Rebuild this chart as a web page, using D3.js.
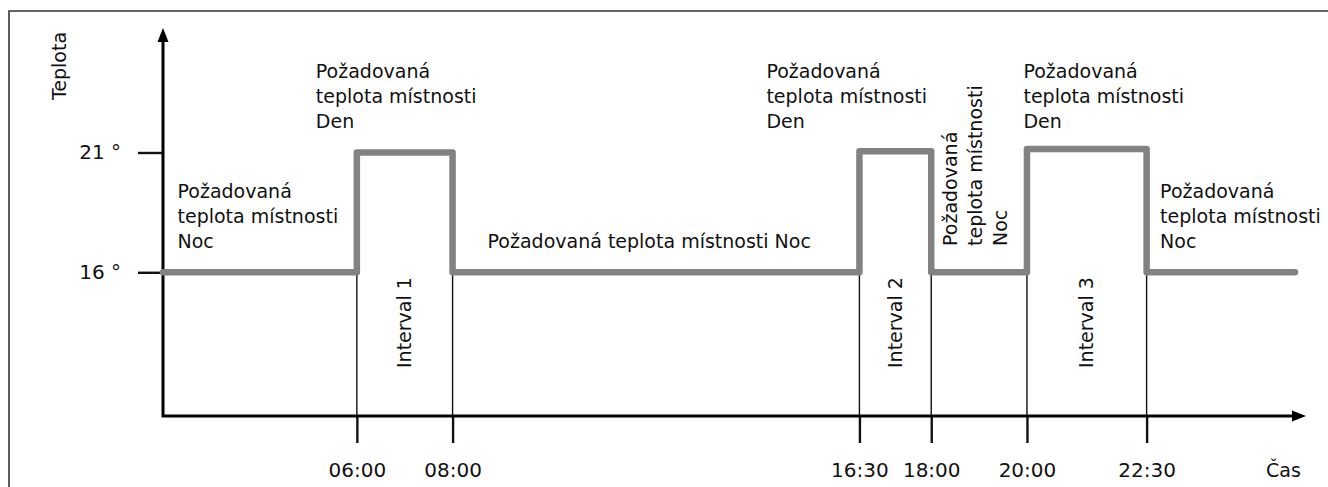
<!DOCTYPE html>
<html><head><meta charset="utf-8">
<script src="https://cdn.jsdelivr.net/npm/d3@7"></script>
<style>
body{margin:0;background:#fff}
svg text{font-family:"DejaVu Sans",sans-serif;font-size:19px;fill:#111}
</style>
</head><body>
<svg id="c" width="1328" height="487"></svg>
<script>
// ---- data ----
const segStartHours = [1.95, 6, 8, 16.5, 18, 20, 22.5];
const segTemps      = [16, 21, 16, 21.05, 16, 21.15, 16];
const lineEndHour   = 25.6;
const tickHours     = [6, 8, 16.5, 18, 20, 22.5];
const tickLabels    = ["06:00", "08:00", "16:30", "18:00", "20:00", "22:30"];
const tempTicks     = [16, 21];
const tempLabels    = ["16 °", "21 °"];
const intervalNames = ["Interval 1", "Interval 2", "Interval 3"];
const intervalStart = [6, 16.5, 20];
const intervalEnd   = [8, 18, 22.5];
const denLines      = ["Požadovaná", "teplota místnosti", "Den"];
const nocLines      = ["Požadovaná", "teplota místnosti", "Noc"];
const nocInline     = "Požadovaná teplota místnosti Noc";
const yTitle = "Teplota", xTitle = "Čas";

// ---- scales ----
const svg = d3.select("#c");
const x = d3.scaleLinear().domain([1.95, 25.83]).range([163, 1306]);
const y = d3.scaleLinear().domain([10, 21]).range([416, 152.5]);
const x0 = x.range()[0], y0 = y(10);

// frame
svg.append("path").attr("d", "M9,487V11H1328").attr("fill", "none")
  .attr("stroke", "#333").attr("stroke-width", 1.6);

// thin vertical guide lines
svg.append("g").selectAll("line").data(tickHours).join("line")
  .attr("x1", d => x(d)).attr("x2", d => x(d))
  .attr("y1", y(16)).attr("y2", y0)
  .attr("stroke", "#111").attr("stroke-width", 1.4);

// x axis ticks + labels
const gx = svg.append("g").attr("transform", `translate(0,${y0})`)
  .call(d3.axisBottom(x).tickValues(tickHours).tickFormat((d, i) => tickLabels[i])
    .tickSize(27).tickSizeOuter(0).tickPadding(20));
gx.select(".domain").remove();
gx.selectAll(".tick line").attr("stroke", "#111").attr("stroke-width", 2.4);
gx.selectAll(".tick text").style("font-size", "20px").attr("fill", "#111");
gx.attr("font-size", null).attr("font-family", null);

// y axis ticks + labels
const gy = svg.append("g").attr("transform", `translate(${x0},0)`)
  .call(d3.axisLeft(y).tickValues(tempTicks).tickFormat((d, i) => tempLabels[i])
    .tickSize(25).tickSizeOuter(0).tickPadding(17));
gy.select(".domain").remove();
gy.selectAll(".tick line").attr("stroke", "#111").attr("stroke-width", 2.4);
gy.selectAll(".tick text").style("font-size", "20px").attr("fill", "#111");
gy.attr("font-size", null).attr("font-family", null);

// axes lines with arrows
const xEnd = x.range()[1];
const yTop = 28;
svg.append("path").attr("d", `M${x0},${yTop + 12}V${y0}H${xEnd - 12}`)
  .attr("fill", "none").attr("stroke", "#000").attr("stroke-width", 3)
  .attr("stroke-linejoin", "miter");
svg.append("path").attr("d", `M${xEnd},${y0}L${xEnd - 14},${y0 - 5.5}L${xEnd - 14},${y0 + 5.5}Z`).attr("fill", "#000");
svg.append("path").attr("d", `M${x0},${yTop}L${x0 - 5.5},${yTop + 14}L${x0 + 5.5},${yTop + 14}Z`).attr("fill", "#000");

// step line
const pts = segStartHours.map((h, i) => [h, segTemps[i]]).concat([[lineEndHour, segTemps[segTemps.length - 1]]]);
svg.append("path").datum(pts)
  .attr("d", d3.line().x(d => x(d[0])).y(d => y(d[1])).curve(d3.curveStepAfter))
  .attr("fill", "none").attr("stroke", "#828282").attr("stroke-width", 6.5)
  .attr("stroke-linejoin", "round").attr("stroke-linecap", "round");

// multi-line label helper
function block(lines, px, py) {
  const t = svg.append("text").attr("x", px).attr("y", py);
  lines.forEach((s, i) => t.append("tspan").attr("x", px).attr("dy", i ? 25 : 0).text(s));
}
// Den labels
block(denLines, x(tickHours[0]) - 41, 78);
block(denLines, x(tickHours[2]) - 93, 78);
block(denLines, x(tickHours[4]) - 3.5, 78);
// Noc labels
block(nocLines, x(segStartHours[0]) + 14.5, 197.5);
block(nocLines, x(tickHours[5]) + 13.5, 197.5);
svg.append("text").attr("x", x(tickHours[1]) + 35).attr("y", 248).text(nocInline);

// rotated Noc label between 18:00 and 20:00
nocLines.forEach((s, i) => {
  svg.append("text").attr("transform", `translate(${x(tickHours[3]) + 26 + i * 25},246) rotate(-90)`)
    .text(s);
});

// interval labels
intervalNames.forEach((s, i) => {
  const mx = (x(intervalStart[i]) + x(intervalEnd[i])) / 2 + 6.5;
  svg.append("text").attr("transform", `translate(${mx},368) rotate(-90)`).text(s);
});

// axis titles
svg.append("text").attr("transform", "translate(66,66) rotate(-90)")
  .attr("text-anchor", "middle").text(yTitle);
svg.append("text").attr("x", 1266).attr("y", 477).text(xTitle);
</script>
</body></html>
